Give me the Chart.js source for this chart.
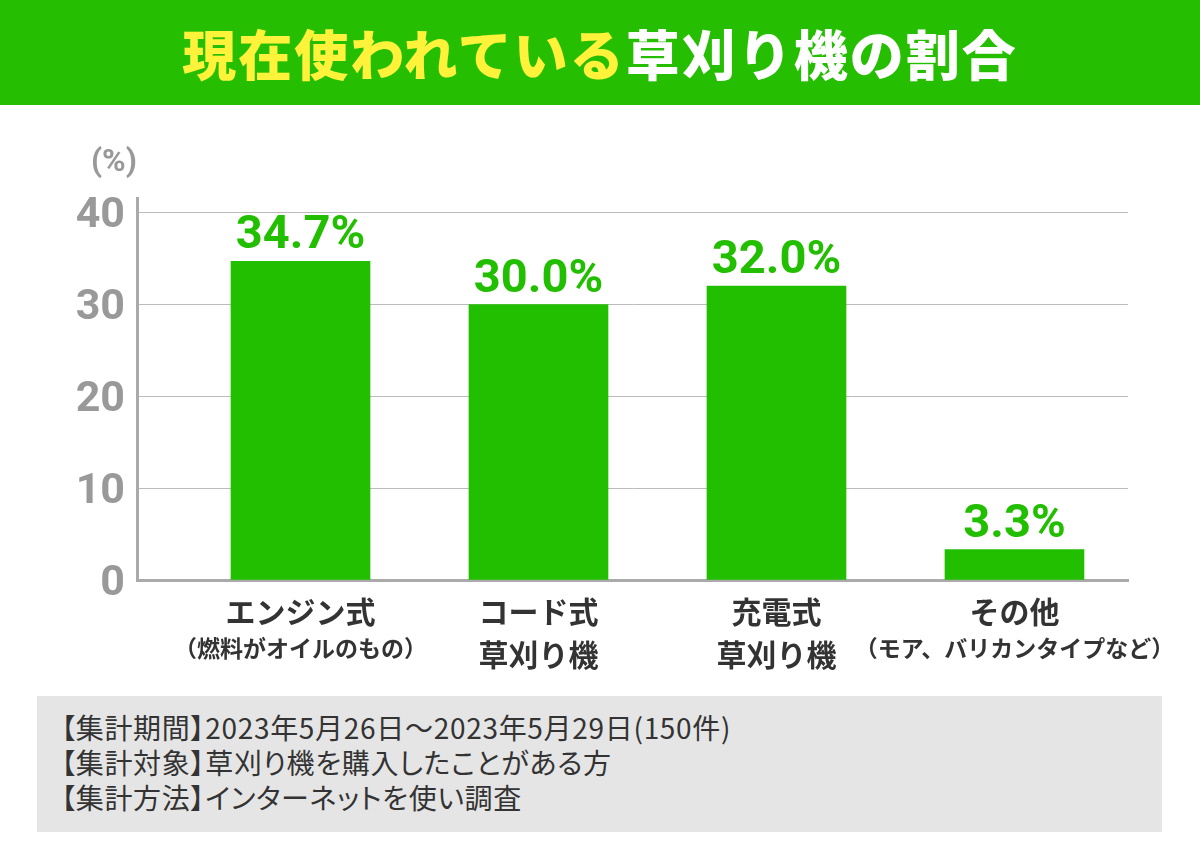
<!DOCTYPE html>
<html lang="ja">
<head>
<meta charset="utf-8">
<script src="https://cdn.jsdelivr.net/npm/chart.js@4.4.0/dist/chart.umd.min.js"></script>
<style>
  html, body { margin: 0; padding: 0; background: #fff; }
  body { width: 1200px; height: 855px; position: relative; overflow: hidden; font-family: "Noto Sans CJK JP", sans-serif; }
  #title { position: absolute; left: 0; top: 0; width: 1200px; height: 105px; background: #25BE00;
           display: flex; align-items: center; justify-content: center;
           font-family: "Noto Sans CJK JP", sans-serif; font-weight: 900; font-size: 54px; letter-spacing: 2px; }
  #title .y { color: #FFF23A; }
  #title .w { color: #FFFFFF; }
  #chartWrap { position: absolute; left: 0; top: 105px; width: 1200px; height: 590px; }
  #footer { position: absolute; left: 37px; top: 696px; width: 1125px; height: 136px; background: #E5E5E5;
            box-sizing: border-box; padding: 14px 0 0 24px; color: #333; font-size: 28px; line-height: 35px;
            letter-spacing: 0.7px;
            font-family: "Noto Sans CJK JP", sans-serif; font-weight: 400; font-feature-settings: "palt" 1; }
</style>
</head>
<body>
<div id="title"><span class="y">現在使われている</span><span class="w">草刈り機の割合</span></div>
<div id="chartWrap"><canvas id="c" width="1200" height="590"></canvas></div>
<div id="footer">
  <div>【集計期間】2023年5月26日～2023年5月29日(150件)</div>
  <div>【集計対象】草刈り機を購入したことがある方</div>
  <div>【集計方法】インターネットを使い調査</div>
</div>
<script>
const categories = ['エンジン式', 'コード式', '充電式', 'その他'];
const subLabels = ['（燃料がオイルのもの）', '草刈り機', '草刈り機', '（モア、バリカンタイプなど）'];
const values = [34.7, 30.0, 32.0, 3.3];
const yTicks = [0, 10, 20, 30, 40];
const unitLabel = '(%)';

const GREEN = '#22BE00';

const labelPlugin = {
  id: 'customLabels',
  afterDatasetsDraw(chart) {
    const ctx = chart.ctx;
    const meta = chart.getDatasetMeta(0);
    const xs = chart.scales.x;
    const area = chart.chartArea;
    ctx.save();
    // value labels
    ctx.fillStyle = GREEN;
    ctx.font = 'bold 47px Roboto, "Noto Sans", sans-serif';
    ctx.textAlign = 'center';
    ctx.textBaseline = 'alphabetic';
    meta.data.forEach((bar, i) => {
      ctx.fillText(values[i].toFixed(1) + '%', bar.x, bar.y - 13);
    });
    // category labels
    ctx.fillStyle = '#333';
    categories.forEach((cat, i) => {
      const x = xs.getPixelForValue(i);
      ctx.textBaseline = 'middle';
      ctx.font = 'bold 30px "Noto Sans CJK JP", sans-serif';
      ctx.fillText(cat, x, area.bottom + 32);
      const sub = subLabels[i];
      if (sub.startsWith('（')) {
        ctx.font = 'bold 23px "Noto Sans CJK JP", sans-serif';
        ctx.fillText(sub, x, area.bottom + 68);
      } else {
        ctx.font = 'bold 30px "Noto Sans CJK JP", sans-serif';
        ctx.fillText(sub, x, area.bottom + 75);
      }
    });
    // unit label
    ctx.fillStyle = '#999';
    ctx.font = 'bold 32px Roboto, sans-serif';
    ctx.textAlign = 'right';
    ctx.textBaseline = 'middle';
    ctx.fillText(unitLabel, area.left, area.top - 35);
    ctx.restore();
  }
};

new Chart(document.getElementById('c'), {
  type: 'bar',
  data: {
    datasets: [{
      data: values.map((v, i) => ({ x: i, y: v })),
      backgroundColor: GREEN,
      borderWidth: 0,
      barThickness: 139
    }]
  },
  options: {
    responsive: false,
    animation: false,
    events: [],
    layout: { padding: { left: 0, right: 72, top: 93, bottom: 115 } },
    plugins: { legend: { display: false }, tooltip: { enabled: false }, title: { display: false } },
    scales: {
      x: {
        type: 'linear',
        offset: false,
        min: -0.687,
        max: 3.477,
        afterFit(scale) { scale.height = 0; },
        grid: { display: false },
        border: { display: true, color: '#AAAAAA', width: 3 },
        ticks: { display: false }
      },
      y: {
        min: 0,
        max: 41.6,
        afterFit(scale) { scale.width = 137; },
        afterBuildTicks(scale) { scale.ticks = yTicks.map(v => ({ value: v })); },
        grid: { color: '#BBBBBB', lineWidth: 1, drawTicks: false },
        border: { display: true, color: '#AAAAAA', width: 3 },
        ticks: {
          color: '#999999',
          font: { family: 'Roboto, sans-serif', weight: 'bold', size: 43 },
          padding: 12,
          labelOffset: 4
        }
      }
    }
  },
  plugins: [labelPlugin]
});
</script>
</body>
</html>
